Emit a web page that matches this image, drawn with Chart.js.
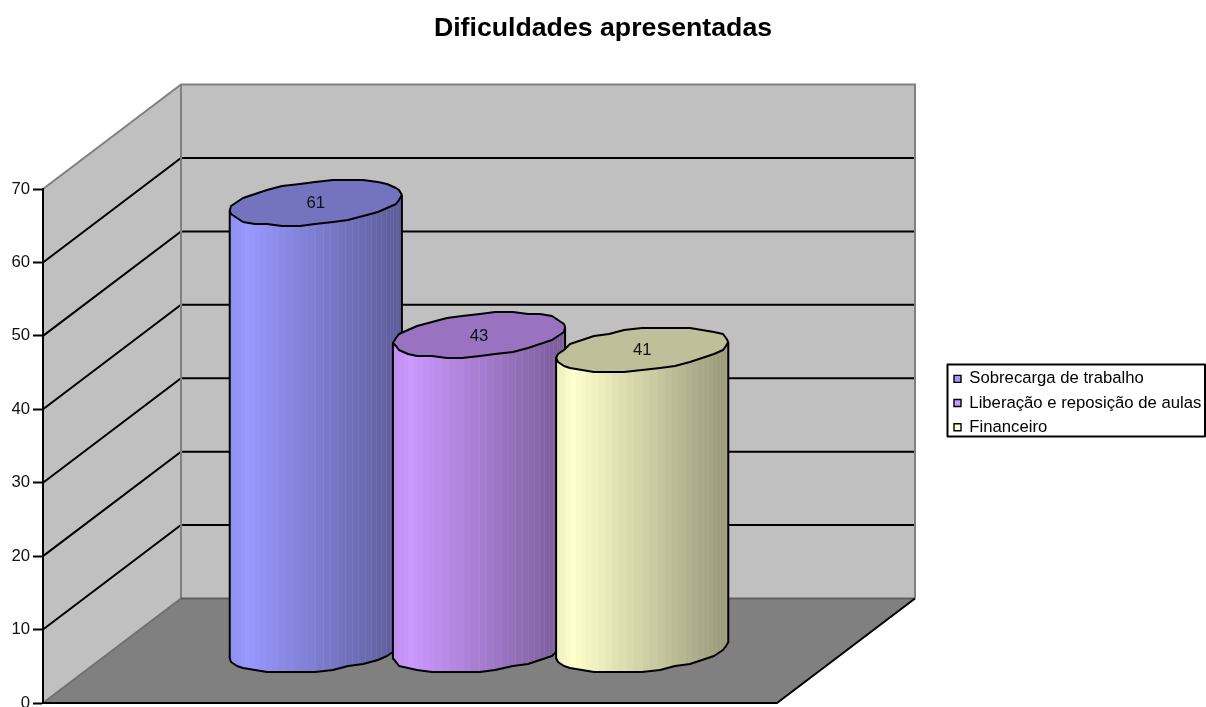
<!DOCTYPE html>
<html>
<head>
<meta charset="utf-8">
<title>Dificuldades apresentadas</title>
<script src="https://cdn.jsdelivr.net/npm/chart.js@4/dist/chart.umd.js"></script>
<style>
    html, body { margin: 0; padding: 0; background: #fff; overflow: hidden; }
    canvas { display: block; }
</style>
</head>
<body>
<canvas id="myChart" width="1206" height="707"></canvas>
<script>
const categories = ['Dificuldades'];
const seriesLabels = ['Sobrecarga de trabalho', 'Liberação e reposição de aulas', 'Financeiro'];
const seriesValues = [61, 43, 41];
const seriesColors = ['#9999ff', '#cc99ff', '#ffffcc'];
const gridValues = [10, 20, 30, 40, 50, 60, 70];

const FONT = '"Liberation Sans", Arial, sans-serif';
const DEPTH_X = 138;
const DEPTH_Y = 104.5;
const ELLIPSE_B = 21;
const ELLIPSE_TILT = 8;

function shade(hex, f) {
    const n = parseInt(hex.slice(1), 16);
    const c = [n >> 16, (n >> 8) & 255, n & 255].map(v => Math.round(v * f));
    return `rgb(${c[0]}, ${c[1]}, ${c[2]})`;
}

function line(ctx, pts, color, width) {
    ctx.beginPath();
    pts.forEach((p, i) => (i ? ctx.lineTo(p[0], p[1]) : ctx.moveTo(p[0], p[1])));
    ctx.strokeStyle = color;
    ctx.lineWidth = width;
    ctx.stroke();
}

function fillPoly(ctx, pts, color) {
    ctx.beginPath();
    pts.forEach((p, i) => (i ? ctx.lineTo(p[0], p[1]) : ctx.moveTo(p[0], p[1])));
    ctx.closePath();
    ctx.fillStyle = color;
    ctx.fill();
}

// walls, floor and the gridlines that run around them
const roomPlugin = {
    id: 'room',
    beforeDraw(chart) {
        const ctx = chart.ctx;
        const { left, right, top, bottom } = chart.chartArea;
        const y = chart.scales.y;
        const bx = left + DEPTH_X, brx = right + DEPTH_X;
        const bTop = top - DEPTH_Y, bBottom = bottom - DEPTH_Y;

        ctx.save();
        fillPoly(ctx, [[left, top], [bx, bTop], [bx, bBottom], [left, bottom]], '#c0c0c0');
        fillPoly(ctx, [[bx, bTop], [brx, bTop], [brx, bBottom], [bx, bBottom]], '#c0c0c0');
        fillPoly(ctx, [[left, bottom], [bx, bBottom], [brx, bBottom], [right, bottom]], '#808080');

        gridValues.slice(0, -1).forEach(v => {
            const py = y.getPixelForValue(v);
            line(ctx, [[left, py], [bx, py - DEPTH_Y], [brx, py - DEPTH_Y]], '#000', 2);
        });

        line(ctx, [[left, top], [bx, bTop], [brx, bTop], [brx, bBottom]], '#808080', 2);
        line(ctx, [[bx, bTop], [bx, bBottom]], '#808080', 2);
        line(ctx, [[left, bottom], [bx, bBottom]], '#707070', 2);
        line(ctx, [[bx, bBottom], [brx, bBottom]], '#606060', 2);
        line(ctx, [[brx, bBottom], [right, bottom], [left, bottom]], '#000', 2);
        ctx.restore();
    }
};

// the cylinder ends are coarse polygons, snapped to a rough grid
function ellipsePoints(cx, cy, a, from, to, steps) {
    const pts = [];
    for (let i = 0; i <= steps; i++) {
        const t = from + (to - from) * i / steps;
        const x = cx + a * Math.cos(t);
        const yy = cy + ELLIPSE_B * Math.sin(t) - ELLIPSE_TILT * Math.cos(t);
        pts.push([Math.round(x / 3) * 3, Math.round(yy / 2) * 2]);
    }
    return pts;
}

function drawCylinder(ctx, bar, color, value) {
    const a = bar.width / 2;
    const cx = bar.x + DEPTH_X / 2;
    const topY = bar.y - DEPTH_Y / 2;
    const baseY = bar.base - DEPTH_Y / 2;
    const left = cx - a, right = cx + a;

    // lower half of the base ellipse, right end to left end
    const lower = ellipsePoints(cx, baseY, a, 0, Math.PI, 16);
    lower[0] = [right, baseY - ELLIPSE_TILT];
    lower[16] = [left, baseY + ELLIPSE_TILT];
    const side = [[right, topY - ELLIPSE_TILT], ...lower, [left, topY + ELLIPSE_TILT]];

    ctx.save();
    ctx.beginPath();
    side.forEach((p, i) => (i ? ctx.lineTo(p[0], p[1]) : ctx.moveTo(p[0], p[1])));
    ctx.closePath();
    ctx.clip();
    const strips = 36;
    for (let i = 0; i < strips; i++) {
        const x0 = cx - a * Math.cos(Math.PI * i / strips);
        const x1 = cx - a * Math.cos(Math.PI * (i + 1) / strips);
        const u = ((x0 + x1) / 2 - left) / (right - left);
        const f = u < 0.1 ? 0.93 + 0.7 * u : 1 - (u - 0.1) * 0.45;
        ctx.fillStyle = shade(color, f);
        ctx.fillRect(Math.floor(x0), topY - 40, Math.ceil(x1) - Math.floor(x0), baseY - topY + 90);
        if (u > 0.5) {
            ctx.fillStyle = 'rgba(255, 255, 255, 0.07)';
            ctx.fillRect(Math.floor(x0), topY - 40, 1, baseY - topY + 90);
        }
    }
    ctx.restore();

    ctx.lineJoin = 'round';
    line(ctx, side, '#000', 2);

    const lid = ellipsePoints(cx, topY, a, 0, Math.PI * 2, 32);
    lid[0] = lid[32] = [right, topY - ELLIPSE_TILT];
    lid[16] = [left, topY + ELLIPSE_TILT];
    fillPoly(ctx, lid, shade(color, 0.75));
    line(ctx, lid, '#000', 2);

    ctx.fillStyle = '#111';
    ctx.font = `16.7px ${FONT}`;
    ctx.textAlign = 'center';
    ctx.textBaseline = 'middle';
    ctx.fillText(String(value), cx, topY + 1);
}

// Chart.js paints the last dataset first, here the later series must overlap the earlier ones
const cylinderPlugin = {
    id: 'cylinders',
    beforeDatasetsDraw(chart) {
        chart.data.datasets.forEach((ds, i) => {
            const bar = chart.getDatasetMeta(i).data[0];
            drawCylinder(chart.ctx, bar, ds.backgroundColor, ds.data[0]);
        });
        return false;
    }
};

// the right padding keeps the room clear of the legend, so both blocks get moved back here
const legendFramePlugin = {
    id: 'legendFrame',
    afterLayout(chart) {
        const legend = chart.legend;
        legend.left = 946.5;
        legend.right = 1206;
        legend.top = 363;
        legend.bottom = 460;
        chart.titleBlock.left = 0;
        chart.titleBlock.right = 1206;
    },
    afterDraw(chart) {
        const ctx = chart.ctx;
        ctx.save();
        ctx.strokeStyle = '#000';
        ctx.lineWidth = 2;
        ctx.strokeRect(947.5, 364.5, 257.5, 72);
        ctx.restore();
    }
};

const ctx = document.getElementById('myChart').getContext('2d');

new Chart(ctx, {
    type: 'bar',
    data: {
        labels: categories,
        datasets: seriesLabels.map((label, i) => ({
            label: label,
            data: [seriesValues[i]],
            backgroundColor: seriesColors[i],
            borderColor: '#000',
            borderWidth: 1.4,
            categoryPercentage: 0.667,
            barPercentage: 1.055
        }))
    },
    options: {
        responsive: false,
        animation: false,
        layout: {
            autoPadding: false,
            padding: { left: 0, right: 170, top: 0, bottom: 4 }
        },
        scales: {
            x: {
                display: false
            },
            y: {
                min: 0,
                max: 70,
                ticks: {
                    stepSize: 10,
                    padding: 3,
                    color: '#111',
                    font: { family: FONT, size: 16.7 }
                },
                grid: { drawOnChartArea: false, color: '#000', tickLength: 10, tickWidth: 2 },
                border: { color: '#000', width: 2 },
                afterFit(scale) {
                    scale.width = 43;
                    // the "0" runs off the bottom edge, no room is reserved for it
                    scale.paddingTop = 0;
                    scale.paddingBottom = 0;
                }
            }
        },
        plugins: {
            title: {
                display: true,
                text: 'Dificuldades apresentadas',
                color: '#000',
                font: { family: FONT, size: 26.7, weight: 'bold' },
                padding: { top: 13, bottom: 144 }
            },
            legend: {
                position: 'right',
                align: 'start',
                labels: {
                    boxWidth: 7,
                    boxHeight: 7,
                    padding: 7.5,
                    color: '#000',
                    font: { family: FONT, size: 16.7 }
                }
            },
            tooltip: { enabled: false }
        }
    },
    plugins: [roomPlugin, cylinderPlugin, legendFramePlugin]
});
</script>
</body>
</html>
